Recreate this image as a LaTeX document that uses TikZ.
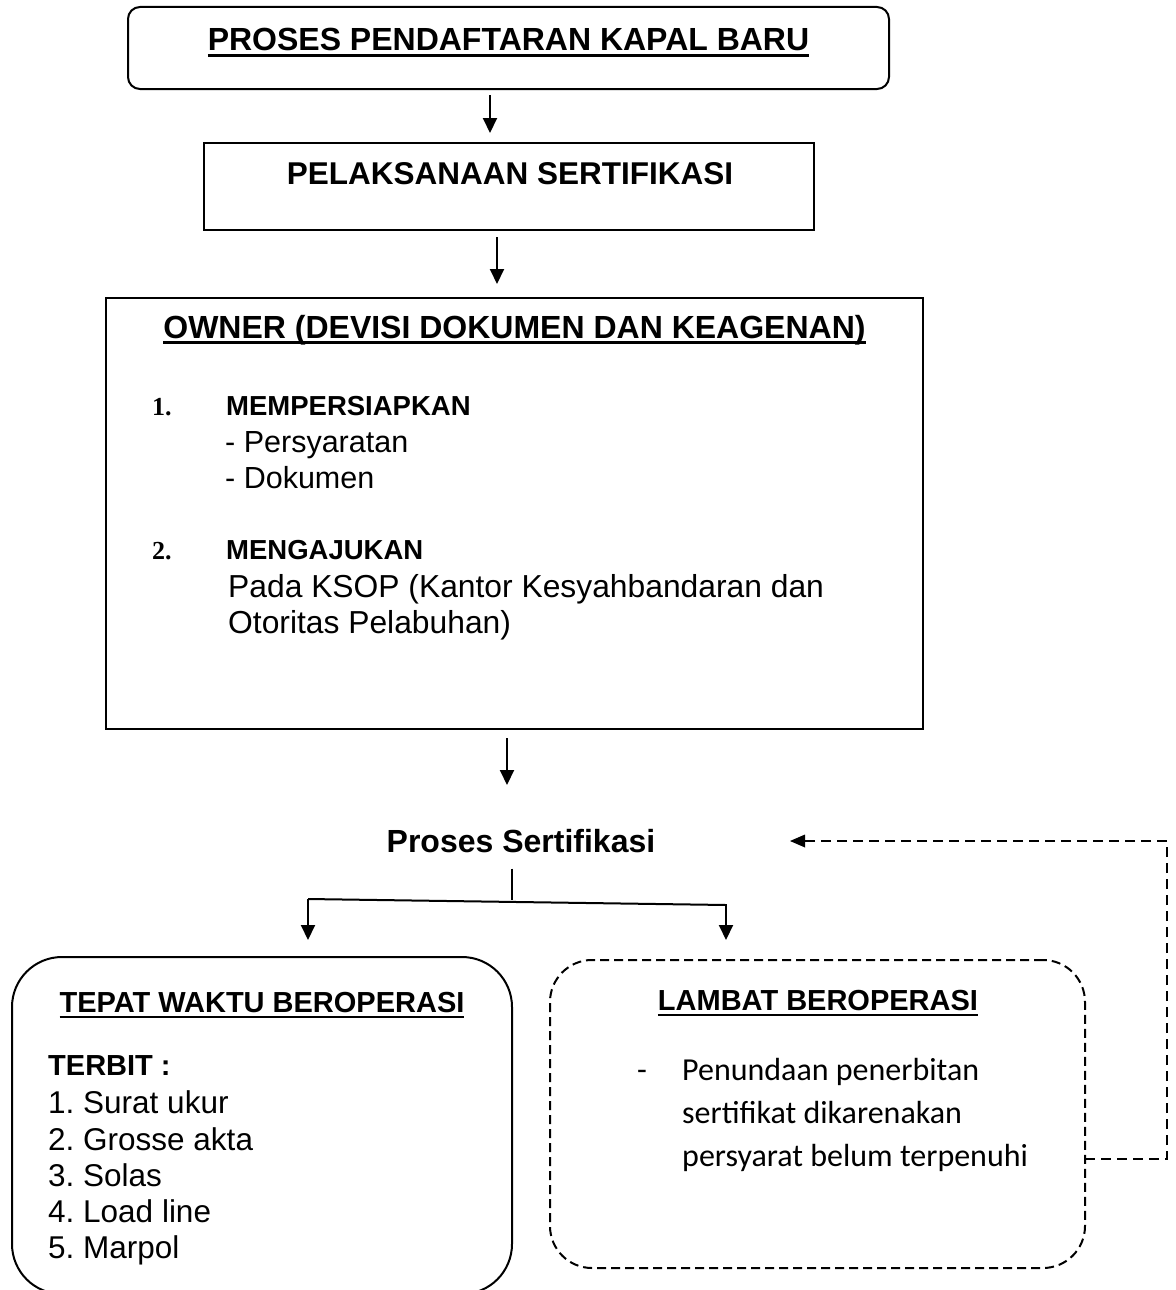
\documentclass[tikz,border=0pt]{standalone}
\usepackage{fontspec}
\setmainfont{Liberation Sans}
\newfontfamily\serifb{Liberation Serif}
\newfontfamily\calib{Carlito}
\usetikzlibrary{arrows.meta,calc}
\newsavebox\ulbox
\newcommand\myul[2][2.8pt]{\sbox\ulbox{#2}\usebox\ulbox\llap{\rule[-6pt]{\wd\ulbox}{#1}}}
\newcommand\myfs[1]{\fontsize{#1pt}{#1pt}\selectfont}
\frenchspacing
\begin{document}
\begin{tikzpicture}[x=1pt,y=-1pt,
 box/.style={draw, line width=2pt, inner sep=0, outer sep=0},
 t/.style={inner sep=0, anchor=base west},
 tc/.style={inner sep=0, anchor=base},
 ln/.style={line width=2pt},
 arr/.style={line width=2pt, -{Triangle[length=15pt,width=14pt]}},
 dsh/.style={line width=1.8pt, dash pattern=on 10pt off 6pt},
]
\fill[white] (0,0) rectangle (1175,1290);
\useasboundingbox (0,0) rectangle (1175,1290);

% boxes
\node[box, rounded corners=12pt, minimum width=761pt, minimum height=82pt] (top) at (508.5,48) {};
\node[box, minimum width=610pt, minimum height=87pt] (pel) at (509,186.5) {};
\node[box, minimum width=817pt, minimum height=431pt] (own) at (514.5,513.5) {};
\node[box, rounded corners=50pt, minimum width=500pt, minimum height=337pt] (tep) at (262,1125.5) {};
\node[box, dash pattern=on 9pt off 5pt, rounded corners=42pt, minimum width=535pt, minimum height=308pt] (lam) at (817.5,1114) {};

% texts top
\node[tc] (toptxt) at (508.5,51) {\myfs{32}\bfseries\myul{PROSES PENDAFTARAN KAPAL BARU}};
\node[tc] (peltxt) at (510,184) {\myfs{31.5}\bfseries PELAKSANAAN SERTIFIKASI};

% owner box
\node[tc] (owntxt) at (514.5,338) {\myfs{32}\bfseries\myul{OWNER (DEVISI DOKUMEN DAN KEAGENAN)}};
\node[t] (n1) at (152,415) {\myfs{26}\serifb\bfseries 1.};
\node[t] (m1) at (226,415) {\myfs{27.5}\bfseries MEMPERSIAPKAN};
\node[t] (m1a) at (225,452) {\myfs{30.5}- Persyaratan};
\node[t] (m1b) at (225,488) {\myfs{30.5}- Dokumen};
\node[t] (n2) at (152,559) {\myfs{26}\serifb\bfseries 2.};
\node[t] (m2) at (226,559) {\myfs{27.5}\bfseries MENGAJUKAN};
\node[t] (m2a) at (228,597) {\myfs{31.8}Pada KSOP (Kantor Kesyahbandaran dan};
\node[t] (m2b) at (228,633) {\myfs{31.8}Otoritas Pelabuhan)};

% proses sertifikasi
\node[tc] (ps) at (521,852) {\myfs{32}\bfseries Proses Sertifikasi};

% tepat box
\node[tc] (teptxt) at (262,1012) {\myfs{29}\bfseries\myul[2.5pt]{TEPAT WAKTU BEROPERASI}};
\node[t] (terb) at (48,1075) {\myfs{29}\bfseries TERBIT :};
\node[t] (l1) at (48,1113) {\myfs{31.5}1. Surat ukur};
\node[t] (l2) at (48,1150) {\myfs{31.5}2. Grosse akta};
\node[t] (l3) at (48,1186) {\myfs{31.5}3. Solas};
\node[t] (l4) at (48,1222) {\myfs{31.5}4. Load line};
\node[t] (l5) at (48,1258) {\myfs{31.5}5. Marpol};

% lambat box
\node[tc] (lamtxt) at (818,1010) {\myfs{29}\bfseries\myul[2.5pt]{LAMBAT BEROPERASI}};
\node[t] (dash) at (637,1080) {\myfs{32}\calib -};
\node[t] (k1) at (682,1080) {\myfs{32}\calib Penundaan penerbitan};
\node[t] (k2) at (682,1123) {\myfs{32}\calib sertifikat dikarenakan};
\node[t] (k3) at (682,1166) {\myfs{32}\calib persyarat belum terpenuhi};

% coordinates
\coordinate (x1) at (490,0);
\coordinate (x2) at (497,0);
\coordinate (x3) at (507,0);
\coordinate (x3tip) at (507,785);
\coordinate (b0) at (512,900);
\coordinate (bl) at (308,899);
\coordinate (br) at (726,905);
\coordinate (fb1) at (1167,1159);
\coordinate (fb2) at (1167,841);
\coordinate (fbtip) at (790,841);

% connectors
\draw[arr, shorten <=6pt, shorten >=10pt] (top.south -| x1) -- (pel.north -| x1);
\draw[arr, shorten <=7pt, shorten >=14pt] (pel.south -| x2) -- (own.north -| x2);
\draw[arr, shorten <=9pt] (own.south -| x3) -- (x3tip);
\draw[ln, shorten <=16pt] (ps.south -| b0) -- (b0);
\draw[ln] (bl) -- (br);
\draw[arr] (bl) -- ([yshift=17pt]tep.north -| bl);
\draw[arr] ([yshift=1pt]br) -- ([yshift=20pt]lam.north -| br);
\draw[dsh] (lam.east |- fb1) -- (fb1) -- (fb2) -- ([xshift=14pt]fbtip);
\fill (fbtip) -- ++(15,-6.5) -- ++(0,13) -- cycle;
\end{tikzpicture}
\end{document}
